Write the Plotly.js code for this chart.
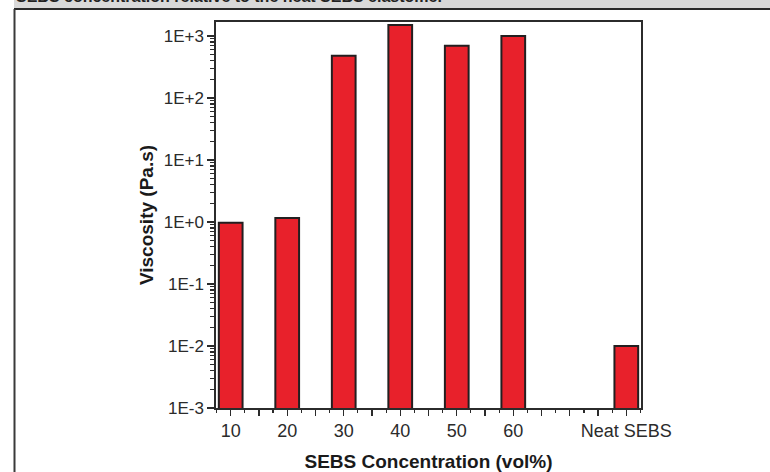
<!DOCTYPE html>
<html>
<head>
<meta charset="utf-8">
<script src="https://cdn.plot.ly/plotly-3.0.1.min.js"></script>
<style>html,body{margin:0;padding:0;background:#fff;}#chart{width:770px;height:472px;}</style>
</head>
<body>
<div id="chart"></div>
<script>
// Data
const categories = ["10", "20", "30", "40", "50", "60", "", "Neat SEBS"];
const viscosity = [0.97, 1.16, 478, 1500, 698, 1000, null, 0.01];
const yTickValues = [0.001, 0.01, 0.1, 1, 10, 100, 1000];
const yTickLabels = ["1E-3", "1E-2", "1E-1", "1E+0", "1E+1", "1E+2", "1E+3"];
const headerText = "SEBS concentration relative to the neat SEBS elastomer";

const xIdx = categories.map((c, i) => i);
const yMinor = [];
for (let e = -3; e < 3; e++) for (let m = 2; m <= 9; m++) yMinor.push(m * Math.pow(10, e));
yMinor.push(2000);

// pixel helpers for the frame decoration
const L = 216, R = 641, T = 22, B = 408;
const px = v => (v - L) / (R - L);
const py = v => (B - v) / (B - T);

const trace = {
  type: "bar",
  x: xIdx,
  y: viscosity,
  width: 0.42,
  marker: { color: "#e8212b", line: { color: "#231f20", width: 2 } },
  hoverinfo: "x+y"
};

const layout = {
  width: 770, height: 472,
  margin: { l: L, r: 770 - R, t: T, b: 472 - B, pad: 0 },
  paper_bgcolor: "#ffffff",
  plot_bgcolor: "#ffffff",
  showlegend: false,
  font: { family: "Liberation Sans, Arial, sans-serif", color: "#2b2b2b" },
  xaxis: {
    range: [-0.26, 7.26],
    tickmode: "array",
    tickvals: xIdx.concat(xIdx.slice(0, -1).map(i => i + 0.5)),
    ticktext: categories.concat(xIdx.slice(0, -1).map(() => "")),
    ticks: "outside", ticklen: 6, tickwidth: 1.3, tickcolor: "#2b2b2b",
    minor: { tickmode: "linear", tick0: 0.25, dtick: 0.5, ticks: "outside", ticklen: 3, tickwidth: 1.2, tickcolor: "#2b2b2b" },
    showline: true, linecolor: "#2b2b2b", linewidth: 1.6, mirror: true,
    showgrid: false, zeroline: false,
    tickfont: { size: 18, color: "#2b2b2b" },
    title: { text: "<b>SEBS Concentration (vol%)</b>", font: { size: 19, color: "#1a1a1a" }, standoff: 16 }
  },
  yaxis: {
    type: "log",
    range: [-3, 3.225],
    tickmode: "array",
    tickvals: yTickValues,
    ticktext: yTickLabels,
    ticks: "outside", ticklen: 7, tickwidth: 1.3, tickcolor: "#2b2b2b",
    minor: { tickmode: "array", tickvals: yMinor, ticks: "outside", ticklen: 4, tickwidth: 1.2, tickcolor: "#2b2b2b", showgrid: false },
    showline: true, linecolor: "#2b2b2b", linewidth: 1.6, mirror: true,
    showgrid: false, zeroline: false,
    tickfont: { size: 17, color: "#2b2b2b" },
    title: { text: "<b>Viscosity (Pa.s)</b>", font: { size: 19, color: "#1a1a1a" }, standoff: 5 }
  },
  shapes: [
    { type: "rect", xref: "paper", yref: "paper", x0: px(14), x1: px(772), y0: py(9), y1: py(-2), fillcolor: "#d9d9d9", line: { width: 0 }, layer: "below" },
    { type: "line", xref: "paper", yref: "paper", x0: px(14), x1: px(772), y0: py(9), y1: py(9), line: { color: "#2a2a2a", width: 2 } },
    { type: "line", xref: "paper", yref: "paper", x0: px(14.5), x1: px(14.5), y0: py(9), y1: py(480), line: { color: "#3a3a3a", width: 2 } }
  ],
  annotations: [
    { text: "<b>" + headerText + "</b>", xref: "paper", yref: "paper", x: px(14), y: py(-3), xanchor: "left", yanchor: "middle", showarrow: false, font: { size: 16, color: "#222" } }
  ]
};

Plotly.newPlot("chart", [trace], layout, { displayModeBar: false, staticPlot: true });
</script>
</body>
</html>
